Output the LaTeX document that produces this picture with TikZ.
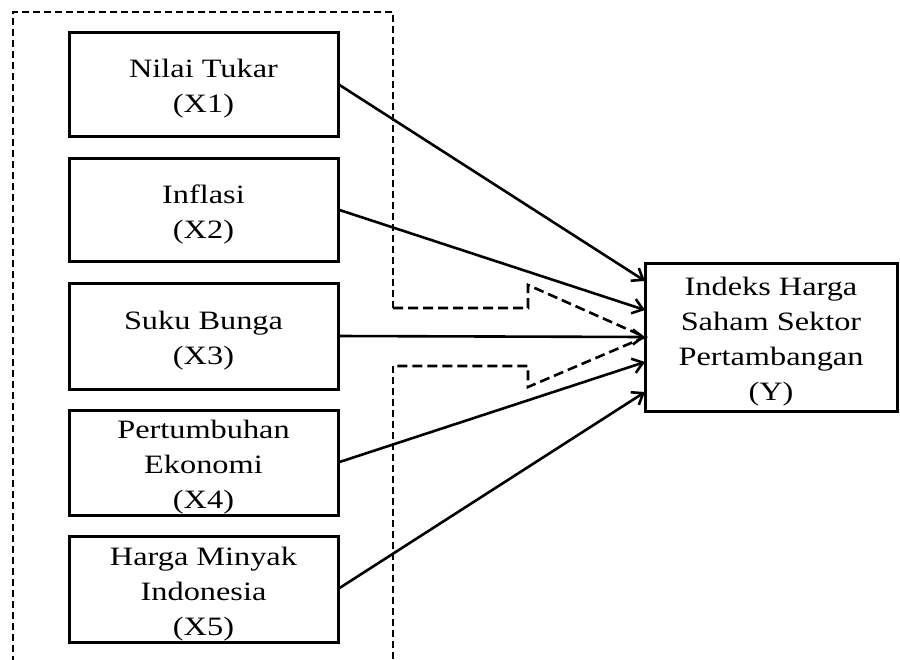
\documentclass[tikz,border=0pt]{standalone}
\usepackage{fontspec}
\setmainfont{Liberation Serif}[FakeStretch=1.22]
\usetikzlibrary{arrows.meta,calc}
\newcommand{\topstrut}{\rule{0pt}{28pt}}
\begin{document}
\begin{tikzpicture}[x=1pt,y=-1pt,
  varbox/.style={draw,line width=3pt,inner sep=0pt,outer sep=0pt,align=center,
    font=\fontsize{26.5}{35}\selectfont},
  infl/.style={line width=2.6pt,-{Straight Barb[length=10pt,width=15pt,line width=2.6pt]}},
  group/.style={line width=2.6pt,dash pattern=on 7pt off 4pt},
  notch/.style={line width=2.6pt,dash pattern=on 10pt off 5pt}]
\useasboundingbox (0,0) rectangle (900,659);
\clip (0,0) rectangle (900,659);
\node[varbox,minimum width=269pt,minimum height=104pt] (b1) at (203.5,84) {\topstrut Nilai Tukar\\(X1)};
\node[varbox,minimum width=269pt,minimum height=103pt] (b2) at (203.5,209.5) {\topstrut Inflasi\\(X2)};
\node[varbox,minimum width=269pt,minimum height=106pt] (b3) at (203.5,336) {\topstrut Suku Bunga\\(X3)};
\node[varbox,minimum width=269pt,minimum height=105pt] (b4) at (203.5,462.5) {\topstrut Pertumbuhan\\Ekonomi\\(X4)};
\node[varbox,minimum width=269pt,minimum height=106pt] (b5) at (203.5,589) {\topstrut Harga Minyak\\Indonesia\\(X5)};
\node[varbox,minimum width=252pt,minimum height=148pt] (y) at (771,337) {\topstrut Indeks Harga\\Saham Sektor\\Pertambangan\\(Y)};
\coordinate (y1) at ([yshift=56pt]y.west);
\coordinate (y2) at ([yshift=27pt]y.west);
\coordinate (y3) at (y.west);
\coordinate (y4) at ([yshift=-25pt]y.west);
\coordinate (y5) at ([yshift=-55pt]y.west);
\coordinate (n1) at (393,308);
\coordinate (n2) at (393,366);
\draw[group] (n1) -- (393,12) -- (13,12) -- (13,690);
\draw[group] (n2) -- (393,690);
\draw[notch] (n1) -- (528,308) -- (528,285) -- (y.west) -- (528,387) -- (528,366) -- (n2);
\draw[infl] (b1.east) -- (y1);
\draw[infl] (b2.east) -- (y2);
\draw[infl] (b3.east) -- (y3);
\draw[infl] (b4.east) -- (y4);
\draw[infl] (b5.east) -- (y5);
\end{tikzpicture}
\end{document}
